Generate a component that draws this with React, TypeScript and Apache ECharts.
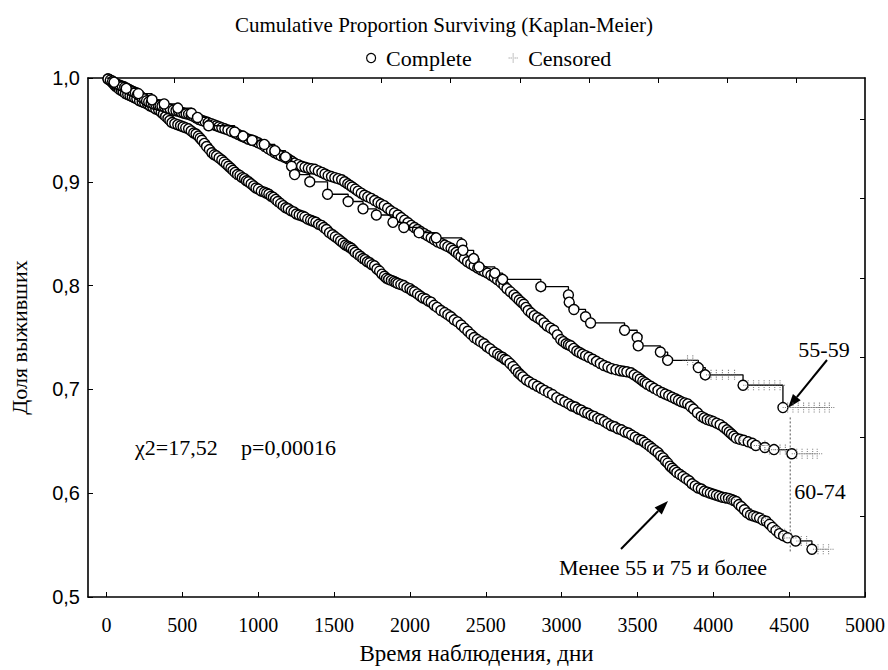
import React, { useEffect, useRef } from 'react';
import * as echarts from 'echarts';

// ---- Data (time in days, cumulative proportion surviving) ----
const xTicks = [0, 500, 1000, 1500, 2000, 2500, 3000, 3500, 4000, 4500, 5000];
const topTicks = [445, 901, 1357, 1813, 2269, 2725, 3181, 3637, 4093, 4549];
const rightTicks = [0.578, 0.654, 0.731, 0.807, 0.884, 0.96];

// "Менее 55 и 75 и более"
const lowGroup: number[][] = [
  [10,0.999],[22,0.998],[35,0.996],[48,0.994],[60,0.992],[72,0.991],[85,0.989],[98,0.988],[110,0.987],[125,0.985],
  [140,0.984],[155,0.983],[170,0.982],[185,0.981],[200,0.98],[218,0.978],[235,0.977],[252,0.976],[270,0.975],[288,0.973],
  [305,0.972],[325,0.97],[344,0.969],[360,0.967],[375,0.965],[390,0.963],[405,0.961],[418,0.959],[432,0.957],[450,0.956],
  [470,0.955],[488,0.954],[505,0.953],[522,0.952],[541,0.951],[558,0.949],[575,0.947],[590,0.946],[605,0.944],[617,0.942],
  [629,0.94],[645,0.937],[660,0.934],[678,0.931],[695,0.928],[710,0.926],[725,0.925],[742,0.923],[760,0.921],[775,0.919],
  [790,0.917],[805,0.915],[820,0.913],[834,0.911],[848,0.909],[864,0.907],[880,0.906],[895,0.904],[910,0.903],[923,0.901],
  [936,0.9],[953,0.898],[970,0.896],[985,0.894],[1001,0.893],[1020,0.891],[1040,0.89],[1055,0.889],[1070,0.888],[1085,0.886],
  [1100,0.885],[1115,0.883],[1130,0.881],[1148,0.879],[1165,0.877],[1182,0.875],[1198,0.874],[1217,0.872],[1235,0.871],[1252,0.869],
  [1270,0.868],[1290,0.867],[1307,0.866],[1326,0.864],[1345,0.863],[1362,0.862],[1380,0.861],[1398,0.859],[1417,0.858],[1433,0.856],
  [1450,0.854],[1470,0.851],[1490,0.849],[1508,0.847],[1527,0.845],[1543,0.843],[1560,0.841],[1575,0.839],[1590,0.838],[1602,0.837],
  [1614,0.836],[1627,0.834],[1640,0.832],[1658,0.83],[1675,0.828],[1690,0.826],[1705,0.825],[1720,0.823],[1735,0.822],[1750,0.82],
  [1767,0.819],[1783,0.816],[1800,0.814],[1816,0.811],[1832,0.809],[1846,0.807],[1860,0.806],[1878,0.805],[1895,0.804],[1908,0.803],
  [1921,0.802],[1940,0.801],[1960,0.8],[1980,0.798],[2000,0.797],[2015,0.795],[2031,0.794],[2050,0.792],[2068,0.79],[2086,0.788],
  [2105,0.787],[2122,0.785],[2140,0.784],[2160,0.781],[2180,0.779],[2205,0.776],[2229,0.774],[2250,0.772],[2270,0.77],[2292,0.767],
  [2315,0.765],[2338,0.762],[2360,0.759],[2382,0.756],[2403,0.753],[2424,0.75],[2445,0.748],[2466,0.746],[2488,0.744],[2509,0.741],
  [2530,0.739],[2554,0.736],[2578,0.734],[2594,0.732],[2610,0.731],[2625,0.729],[2639,0.728],[2660,0.725],[2680,0.722],[2698,0.719],
  [2715,0.716],[2730,0.714],[2745,0.712],[2768,0.709],[2790,0.707],[2815,0.705],[2840,0.703],[2864,0.701],[2888,0.699],[2914,0.697],
  [2940,0.695],[2968,0.692],[2995,0.69],[3021,0.688],[3047,0.686],[3068,0.684],[3090,0.683],[3110,0.681],[3130,0.68],[3151,0.678],
  [3172,0.677],[3194,0.675],[3215,0.674],[3238,0.672],[3260,0.671],[3283,0.669],[3305,0.667],[3328,0.665],[3350,0.664],[3372,0.662],
  [3395,0.661],[3418,0.659],[3440,0.658],[3462,0.656],[3485,0.654],[3506,0.652],[3527,0.651],[3546,0.649],[3565,0.647],[3583,0.645],
  [3600,0.643],[3618,0.641],[3636,0.639],[3653,0.636],[3670,0.634],[3685,0.631],[3700,0.629],[3715,0.626],[3730,0.624],[3745,0.622],
  [3760,0.62],[3780,0.618],[3800,0.616],[3820,0.614],[3840,0.612],[3860,0.609],[3880,0.607],[3900,0.605],[3921,0.604],[3940,0.602],
  [3960,0.601],[3980,0.6],[4000,0.599],[4020,0.598],[4040,0.597],[4060,0.596],[4080,0.5955],[4100,0.595],[4120,0.594],[4135,0.593],
  [4151,0.592],[4168,0.589],[4185,0.587],[4205,0.584],[4224,0.581],[4245,0.579],[4265,0.578],[4285,0.577],[4305,0.576],[4327,0.574],
  [4349,0.573],[4370,0.57],[4390,0.567],[4413,0.564],[4436,0.561],[4463,0.559],[4490,0.557],[4543,0.554],[4650,0.546],
];

// "60-74"
const midGroup: number[][] = [
  [10,0.999],[25,0.998],[40,0.997],[55,0.995],[70,0.994],[87,0.993],[104,0.992],[120,0.991],[135,0.99],[148,0.989],
  [160,0.988],[175,0.987],[190,0.986],[205,0.984],[220,0.983],[235,0.981],[250,0.98],[264,0.978],[278,0.977],[294,0.976],
  [310,0.975],[325,0.9745],[340,0.974],[353,0.9735],[366,0.973],[383,0.972],[400,0.971],[420,0.97],[440,0.969],[458,0.9685],
  [475,0.968],[492,0.967],[510,0.966],[525,0.9655],[541,0.965],[558,0.964],[575,0.963],[592,0.9615],[610,0.96],[630,0.959],
  [650,0.958],[670,0.957],[690,0.956],[707,0.955],[725,0.954],[742,0.953],[760,0.952],[780,0.951],[800,0.95],[824,0.9485],
  [848,0.947],[869,0.9455],[890,0.944],[913,0.9425],[936,0.941],[958,0.94],[980,0.939],[1001,0.9375],[1023,0.936],[1044,0.934],
  [1065,0.932],[1088,0.93],[1110,0.928],[1130,0.9265],[1150,0.925],[1174,0.9235],[1198,0.922],[1219,0.92],[1240,0.918],[1263,0.9165],
  [1286,0.915],[1308,0.914],[1330,0.913],[1351,0.9125],[1373,0.912],[1396,0.9105],[1420,0.909],[1440,0.9075],[1461,0.906],[1483,0.905],
  [1505,0.904],[1527,0.903],[1550,0.902],[1570,0.9],[1590,0.898],[1605,0.8965],[1620,0.895],[1640,0.893],[1658,0.891],[1679,0.889],
  [1700,0.887],[1722,0.8855],[1745,0.884],[1768,0.882],[1790,0.88],[1810,0.8785],[1831,0.877],[1853,0.8745],[1875,0.872],[1898,0.87],
  [1921,0.868],[1943,0.8655],[1965,0.863],[1987,0.8605],[2009,0.858],[2030,0.856],[2050,0.854],[2072,0.852],[2095,0.85],[2118,0.848],
  [2140,0.846],[2162,0.844],[2184,0.842],[2207,0.8405],[2230,0.839],[2250,0.8375],[2271,0.836],[2288,0.834],[2305,0.832],[2321,0.83],
  [2337,0.828],[2358,0.8255],[2380,0.823],[2401,0.821],[2423,0.819],[2447,0.817],[2470,0.815],[2491,0.8135],[2512,0.812],[2534,0.81],
  [2555,0.808],[2578,0.8055],[2600,0.803],[2620,0.8],[2640,0.797],[2663,0.794],[2686,0.791],[2703,0.7885],[2720,0.786],[2735,0.784],
  [2751,0.782],[2765,0.779],[2780,0.776],[2800,0.7735],[2820,0.771],[2842,0.769],[2863,0.767],[2884,0.764],[2905,0.761],[2928,0.759],
  [2950,0.757],[2972,0.7525],[2994,0.748],[3012,0.746],[3030,0.744],[3045,0.743],[3060,0.742],[3080,0.7395],[3100,0.737],[3118,0.7355],
  [3137,0.734],[3158,0.7325],[3180,0.731],[3205,0.729],[3230,0.727],[3255,0.725],[3279,0.723],[3305,0.7215],[3330,0.72],[3358,0.719],
  [3386,0.718],[3408,0.7175],[3430,0.717],[3457,0.716],[3478,0.714],[3500,0.712],[3518,0.71],[3535,0.708],[3550,0.7065],[3564,0.705],
  [3587,0.703],[3610,0.701],[3635,0.699],[3660,0.697],[3683,0.6955],[3706,0.694],[3728,0.6925],[3750,0.691],[3770,0.6895],[3790,0.688],
  [3811,0.687],[3831,0.686],[3850,0.6835],[3870,0.681],[3895,0.6775],[3921,0.674],[3940,0.6725],[3960,0.671],[3980,0.67],[4000,0.669],
  [4022,0.6675],[4045,0.666],[4068,0.6635],[4090,0.661],[4105,0.659],[4120,0.657],[4135,0.655],[4151,0.653],[4175,0.652],[4200,0.651],
  [4230,0.6495],[4258,0.648],[4280,0.646],[4340,0.644],[4400,0.642],[4518,0.638],
];

// "55-59"
const highGroup: number[][] = [
  [50,0.996],[130,0.99],[210,0.985],[300,0.979],[380,0.975],[470,0.971],[560,0.966],[600,0.962],
  [673,0.954],[845,0.948],[900,0.944],[960,0.94],[1040,0.936],[1110,0.93],[1180,0.924],[1220,0.915],
  [1240,0.907],[1340,0.9],[1457,0.888],[1593,0.881],[1691,0.874],[1779,0.868],[1888,0.861],[1960,0.856],
  [2060,0.851],[2173,0.846],[2342,0.84],[2350,0.834],[2420,0.826],[2456,0.818],[2560,0.812],[2611,0.806],
  [2863,0.799],[3045,0.791],[3050,0.784],[3081,0.777],[3158,0.77],[3191,0.764],[3415,0.757],[3498,0.75],
  [3505,0.742],[3651,0.736],[3699,0.728],[3901,0.721],[3947,0.714],[4196,0.704],[4459,0.6825],
];

const censoredLow: number[][] = [
  [4110,0.594],[4250,0.581],[4330,0.576],[4410,0.567],[4470,0.561],[4515,0.557],[4580,0.554],
  [4615,0.554],[4690,0.546],[4725,0.546],[4760,0.546],
];
const censoredMid: number[][] = [
  [3980,0.671],[4180,0.651],[4300,0.646],[4340,0.646],[4370,0.642],[4440,0.642],[4475,0.642],
  [4550,0.638],[4585,0.638],[4620,0.638],[4655,0.638],[4685,0.638],
];
const censoredHigh: number[][] = [
  [3830,0.728],[3865,0.728],[3985,0.714],[4020,0.714],[4060,0.714],[4100,0.714],[4140,0.714],
  [4230,0.704],[4265,0.704],[4300,0.704],[4335,0.704],[4370,0.704],[4405,0.704],[4440,0.704],
  [4490,0.6825],[4525,0.6825],[4560,0.6825],[4595,0.6825],[4630,0.6825],[4665,0.6825],[4700,0.6825],
  [4735,0.6825],[4765,0.6825],
];
const dropLine: number[][] = [[4507, 0.673], [4507, 0.543]];

// ---- Styling ----
const SERIF = '"Liberation Serif", "Times New Roman", serif';
const SANS = '"Liberation Sans", Arial, sans-serif';
const censoredPath =
  'path://M4,0h1v1h-1zM4,2h1v1h-1zM0,4h1v1h-1zM2,4h1v1h-1zM4,4h1v1h-1zM6,4h1v1h-1zM8,4h1v1h-1zM4,6h1v1h-1zM4,8h1v1h-1z';

function kmSeries(data: number[][], z: number) {
  return {
    type: 'line',
    name: 'Complete',
    step: 'end',
    data: [{ value: [0, 1], symbol: 'none' }, ...data.map((d) => ({ value: d }))],
    symbol: 'circle',
    symbolSize: 10,
    showAllSymbol: true,
    itemStyle: { color: '#fff', borderColor: '#000', borderWidth: 1.4 },
    lineStyle: { color: '#000', width: 1.3 },
    emphasis: { disabled: true },
    silent: true,
    z,
  };
}

function arrow(x1: number, y1: number, x2: number, y2: number) {
  const dx = x2 - x1;
  const dy = y2 - y1;
  const len = Math.hypot(dx, dy);
  const ux = dx / len;
  const uy = dy / len;
  const bx = x2 - 14 * ux;
  const by = y2 - 14 * uy;
  const nx = -uy;
  const ny = ux;
  return [
    { type: 'line', shape: { x1, y1, x2: bx, y2: by }, style: { stroke: '#000', lineWidth: 2 } },
    {
      type: 'polygon',
      shape: { points: [[x2, y2], [bx + 5 * nx, by + 5 * ny], [bx - 5 * nx, by - 5 * ny]] },
      style: { fill: '#000' },
    },
  ];
}

function txt(text: string, x: number, y: number, align: string, size = 22) {
  return {
    type: 'text',
    x,
    y,
    style: { text, fill: '#000', fontFamily: SERIF, fontSize: size, align, verticalAlign: 'middle' },
  };
}

const axisLineStyle = { lineStyle: { color: '#000', width: 1.6 } };

const option: any = {
  animation: false,
  backgroundColor: '#fff',
  title: {
    text: 'Cumulative Proportion Surviving (Kaplan-Meier)',
    left: 'center',
    top: 9,
    textStyle: { fontFamily: SERIF, fontSize: 21, fontWeight: 'normal', color: '#000' },
  },
  legend: {
    left: 361,
    top: 42,
    itemWidth: 20,
    itemHeight: 9,
    itemGap: 37,
    selectedMode: false,
    textStyle: { fontFamily: SERIF, fontSize: 22, color: '#000' },
    data: [
      { name: 'Complete', icon: 'circle', itemStyle: { color: '#fff', borderColor: '#000', borderWidth: 1.2 } },
      { name: 'Censored', icon: censoredPath, itemStyle: { color: '#666' } },
    ],
  },
  grid: { left: 86, right: 22, top: 78, bottom: 68 },
  xAxis: [
    {
      type: 'value',
      min: -122,
      max: 5000,
      name: 'Время наблюдения, дни',
      nameLocation: 'middle',
      nameGap: 45,
      nameTextStyle: { fontFamily: SERIF, fontSize: 23, color: '#000' },
      axisLine: { show: true, onZero: false, ...axisLineStyle },
      axisTick: { show: true, inside: true, length: 5, customValues: xTicks, lineStyle: { color: '#000' } },
      axisLabel: {
        customValues: xTicks,
        margin: 18,
        fontFamily: SERIF,
        fontSize: 20,
        color: '#000',
        formatter: (v: number) => String(v),
      },
      splitLine: { show: false },
    },
    {
      type: 'value',
      position: 'top',
      min: -122,
      max: 5000,
      axisLine: { show: true, onZero: false, ...axisLineStyle },
      axisTick: { show: true, inside: true, length: 5, customValues: topTicks, lineStyle: { color: '#000' } },
      axisLabel: { show: false },
      splitLine: { show: false },
    },
  ],
  yAxis: [
    {
      type: 'value',
      min: 0.5,
      max: 1.0,
      interval: 0.1,
      name: 'Доля выживших',
      nameLocation: 'middle',
      nameGap: 58,
      nameTextStyle: { fontFamily: SERIF, fontSize: 22, color: '#000' },
      axisLine: { show: true, onZero: false, ...axisLineStyle },
      axisTick: { show: true, inside: true, length: 5, lineStyle: { color: '#000' } },
      axisLabel: {
        margin: 8,
        fontFamily: SANS,
        fontSize: 20,
        color: '#000',
        formatter: (v: number) => v.toFixed(1).replace('.', ','),
      },
      splitLine: { show: false },
    },
    {
      type: 'value',
      position: 'right',
      min: 0.5,
      max: 1.0,
      axisLine: { show: true, onZero: false, ...axisLineStyle },
      axisTick: { show: true, inside: true, length: 5, customValues: rightTicks, lineStyle: { color: '#000' } },
      axisLabel: { show: false },
      splitLine: { show: false },
    },
  ],
  series: [
    {
      type: 'line',
      name: 'drop',
      data: dropLine,
      symbol: 'none',
      lineStyle: { color: '#555', width: 1, type: [2, 2] },
      silent: true,
      z: 1,
    },
    kmSeries(lowGroup, 2),
    kmSeries(midGroup, 3),
    kmSeries(highGroup, 4),
    {
      type: 'scatter',
      name: 'Censored',
      data: [...censoredLow, ...censoredMid, ...censoredHigh],
      symbol: censoredPath,
      symbolSize: 10,
      itemStyle: { color: '#666' },
      silent: true,
      z: 5,
    },
  ],
  graphic: [
    txt('χ2=17,52', 135, 447, 'left'),
    txt('p=0,00016', 241, 447, 'left'),
    txt('55-59', 824, 349, 'center'),
    txt('60-74', 820, 491, 'center'),
    txt('Менее 55 и 75 и более', 663, 567, 'center'),
    ...arrow(827, 360, 788, 408),
    ...arrow(621, 549, 668, 501),
  ],
};

export default function App() {
  const ref = useRef<HTMLDivElement>(null);
  useEffect(() => {
    const chart = echarts.init(ref.current!, null, { renderer: 'svg' });
    chart.setOption(option);
    return () => chart.dispose();
  }, []);
  return (
    <div
      ref={ref}
      style={{ position: 'fixed', left: 0, top: 0, width: 888, height: 670, background: '#fff' }}
    />
  );
}
